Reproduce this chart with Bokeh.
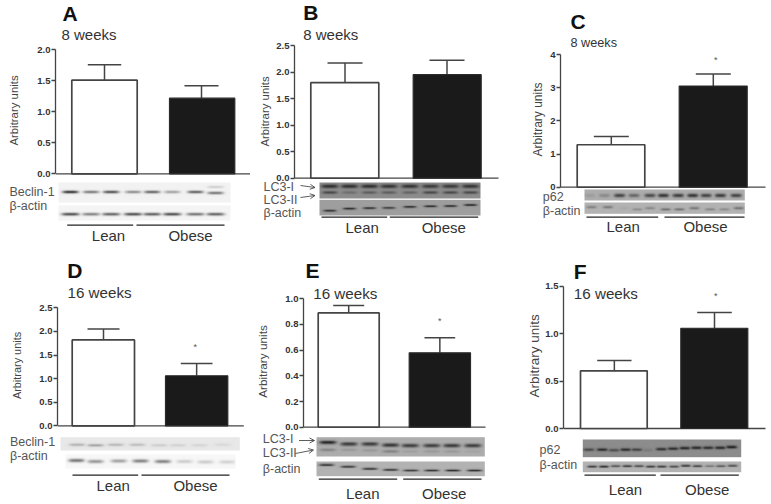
import numpy as np
from bokeh.embed import file_html
from bokeh.resources import INLINE
from bokeh.layouts import column, row
from bokeh.models import Range1d, FixedTicker, Label, Arrow, OpenHead
from bokeh.plotting import figure

# ---------- data ----------
panel_letters = ["A", "B", "C", "D", "E", "F"]
panel_periods = ["8 weeks", "8 weeks", "8 weeks", "16 weeks", "16 weeks", "16 weeks"]
groups = ["Lean", "Obese"]
y_label = "Arbitrary units"

lean_means = [1.51, 1.80, 1.28, 1.82, 0.89, 0.608]
lean_tops = [1.76, 2.17, 1.53, 2.05, 0.947, 0.717]
obese_means = [1.22, 1.95, 3.05, 1.06, 0.579, 1.057]
obese_tops = [1.42, 2.22, 3.41, 1.32, 0.696, 1.223]
has_star = [False, False, True, True, True, True]

y_ticks = [
    [0, 0.5, 1.0, 1.5, 2.0],
    [0, 0.5, 1.0, 1.5, 2.0, 2.5],
    [0, 1, 2, 3, 4],
    [0, 0.5, 1.0, 1.5, 2.0, 2.5],
    [0, 0.2, 0.4, 0.6, 0.8, 1.0],
    [0, 0.5, 1.0, 1.5],
]
y_tick_labels = [
    ["0.0", "0.5", "1.0", "1.5", "2.0"],
    ["0.0", "0.5", "1.0", "1.5", "2.0", "2.5"],
    ["0", "1", "2", "3", "4"],
    ["0.0", "0.5", "1.0", "1.5", "2.0", "2.5"],
    ["0.0", "0.2", "0.4", "0.6", "0.8", "1.0"],
    ["0.0", "0.5", "1.0", "1.5"],
]

# band darkness per lane (0 = none, 1 = black)
a_beclin = [0.95, 0.6, 0.8, 0.5, 0.7, 0.4, 0.72, 0.62]
a_actin = [0.8, 0.55, 0.7, 0.8, 0.72, 0.8, 0.62, 0.7]
b_lc3_1 = [0.85, 0.85, 0.85, 0.8, 0.8, 0.75, 0.75, 0.8]
b_lc3_2 = [0.65, 0.3, 0.45, 0.45, 0.4, 0.65, 0.65, 0.65]
b_actin = [0.85, 0.9, 0.85, 0.75, 0.85, 0.85, 0.85, 0.9]
c_p62 = [0.12, 0.25, 0.75, 0.5, 0.7, 0.85, 0.8, 0.85, 0.75, 0.8, 0.75, 0.7]
c_actin = [0.35, 0.4, 0.06, 0.28, 0.3, 0.5, 0.5, 0.42, 0.35, 0.3, 0.45, 0.0]
d_beclin = [0.28, 0.36, 0.25, 0.22, 0.14, 0.12, 0.1, 0.08]
d_actin = [0.6, 0.45, 0.4, 0.55, 0.55, 0.2, 0.2, 0.17]
e_lc3_1 = [0.95, 0.8, 0.8, 0.8, 0.75, 0.75, 0.78, 0.75]
e_lc3_2 = [0.3, 0.15, 0.15, 0.3, 0.1, 0.15, 0.15, 0.08]
e_actin = [0.9, 0.85, 0.85, 0.85, 0.8, 0.85, 0.9, 0.9]
f_p62 = [0.6, 0.85, 0.55, 0.85, 0.65, 0.15, 0.8, 0.85, 0.9, 0.9, 0.85, 0.9, 0.95]
f_actin = [0.8, 0.9, 0.65, 0.8, 0.7, 0.8, 0.8, 0.7, 0.85, 0.75, 0.4, 0.6, 0.7]

# ---------- layout, in pixels of the picture ----------
LEFT = [0, 250, 510, 0, 250, 510]
RIGHT = [250, 510, 766, 250, 510, 766]
TOP = [0, 0, 0, 252, 252, 252]
CHART_TOP = [40, 40, 48, 299, 286, 279]
SPLIT = [180, 182, 190, 431, 436, 432]
BOTTOM = [252, 252, 252, 503, 503, 503]
OVERLAP = 10
AXIS_X = [55, 294, 560, 57.3, 302.7, 563.3]
Y_ZERO = [173.3, 177.7, 186.7, 425.3, 426.7, 428]
Y_MAX = [49.3, 45, 54, 307.3, 298.3, 285.7]
X_AXIS_END = [250, 498, 765, 243.3, 485, 765]
LEAN_BAR = [(71.3, 136.7), (310.3, 378.3), (576.7, 644.3), (71.7, 134), (317.7, 378.7), (580, 646.7)]
OBESE_BAR = [(169, 234.3), (412.7, 480.7), (678.7, 746.7), (165, 227.3), (408.7, 470), (680.3, 747.3)]
LEAN_CAP = [(87.3, 120.7), (327, 362), (593.3, 628.3), (87, 119), (332.7, 363.7), (596.7, 631)]
OBESE_CAP = [(184, 218), (429, 464), (695.3, 730.3), (180.3, 212), (424, 454.7), (696.7, 731.3)]
STAR = [None, None, (715.3, 59), (194.7, 346), (439.3, 320), (715.3, 295)]
LETTER = [(62, 21), (302.7, 20), (570, 28.3), (66.7, 277.3), (305, 277.3), (573.3, 278.3)]
PERIOD = [(61, 39, 15), (302.7, 39, 15), (570, 47, 12.7), (67, 297.3, 15.2), (312.7, 298.3, 15.2), (573.3, 298.7, 15.2)]
YLAB = [(17, 11.4), (267.5, 11.4), (542, 12), (19.8, 10.9), (267.2, 11.8), (538.2, 13.5)]
RULES = [
    (224.7, (66.7, 132.7), (136, 224)),
    (216.7, (321, 386.7), (389.3, 477.7)),
    (216.7, (586, 657.7), (664, 744)),
    (474.7, (72, 137.7), (141, 229)),
    (478.7, (318.3, 396.7), (402.7, 481)),
    (474.7, (584, 655.3), (660, 738.3)),
]
GROUP_TEXT = [
    (108, 190, 240), (361.7, 443.3, 232.3), (622.7, 705, 231.7),
    (112.7, 195, 490), (362.3, 443.7, 498), (625, 706.7, 494),
]
ROW_TEXT = [
    [("Beclin-1", 9, 196), ("β-actin", 9, 210)],
    [("LC3-I", 263, 191), ("LC3-II", 263, 204), ("β-actin", 263, 216.7)],
    [("p62", 542.3, 201), ("β-actin", 542.3, 215)],
    [("Beclin-1", 9.5, 446), ("β-actin", 9.5, 460)],
    [("LC3-I", 262.3, 443.3), ("LC3-II", 262.3, 457.3), ("β-actin", 262.3, 473.3)],
    [("p62", 539, 454), ("β-actin", 539, 469)],
]
ARROWS = [
    [],
    [(300, 185, 314.5, 187), (300, 197, 314.5, 195)],
    [],
    [],
    [(298.5, 440, 314, 440), (295, 453, 313, 449.5)],
    [],
]


def zx(vals, off):
    return [off + v / 3 for v in vals]


lanes8 = zx([210, 272, 332, 398, 455, 515, 585, 645], 0)
lanesB = zx([238, 297, 357, 415, 478, 540, 600, 660], 250)
lanesC = zx([237, 282, 327, 370, 418, 458, 502, 545, 585, 628, 675, 0], 510)
lanesC_actin = zx([243, 292, 340, 380, 418, 465, 505, 550, 597, 640, 683, 705], 510)
lanesD = zx([230, 285, 345, 410, 475, 530, 595, 665], 0)
lanesD_actin = zx([228, 285, 355, 420, 487, 552, 615, 680], 0)
lanesE = zx([232, 295, 358, 420, 478, 542, 602, 665], 250)
lanesE_actin = zx([228, 293, 358, 420, 480, 542, 605, 670], 250)
lanesF = zx([235, 275, 310, 345, 378, 410, 452, 487, 522, 557, 592, 628, 662], 510)
lanesF_actin = zx([245, 280, 315, 350, 385, 420, 453, 490, 525, 560, 597, 630, 665], 510)

# box (x0, x1, y0, y1), background grey, bands: (lane xs, lane ys, darkness, half width, half height)
BLOTS = [
    [
        ((58, 230, 182, 202), 0.95, [(lanes8, [191.5] * 7 + [192.5], a_beclin, 8, 1.3),
                                     (lanes8[-1:], [186.5], [0.2], 8, 1.0)]),
        ((58, 230, 205, 220), 0.96, [(lanes8, [213.7] * 8, a_actin, 9, 1.4)]),
    ],
    [
        ((319, 480, 182, 198), 0.55, [(lanesB, [185.8] * 8, b_lc3_1, 8.5, 1.8),
                                      (lanesB, [192] * 8, b_lc3_2, 7.5, 1.3)]),
        ((319, 480, 199.3, 215), 0.62, [(lanesB, [210.5, 208.5, 208, 207.8, 206.8, 206.2, 206, 205], b_actin, 6.5, 1.0)]),
    ],
    [
        ((584, 744.3, 189, 200), 0.68, [(lanesC, [195] * 12, c_p62, 5.5, 1.8)]),
        ((584, 744.3, 202, 213.3), 0.70, [(lanesC_actin, [207, 207, 208, 209, 208, 209, 209, 208, 209, 209, 208, 207], c_actin, 5, 1.0)]),
    ],
    [
        ((60, 239.3, 436.7, 450), 0.91, [(lanesD, [444.5, 445, 444.5, 444.5, 445, 445, 445, 444.5], d_beclin, 8, 1.2)]),
        ((65, 235, 454, 468), 0.97, [(lanesD_actin, [460, 461, 460.5, 460.5, 461, 461, 461.5, 461.5], d_actin, 8, 1.7)]),
    ],
    [
        ((316, 484.3, 436.7, 456), 0.68, [(lanesE, [442.5, 444, 444, 445, 445.5, 445.5, 445.5, 445.5], e_lc3_1, 8.5, 1.7),
                                          (lanesE, [449.5, 449.5, 450, 451, 451, 451, 451, 451], e_lc3_2, 8, 1.3)]),
        ((316, 484.3, 461, 475.7), 0.70, [(lanesE_actin, [465, 466.7, 468.7, 469.7, 470.3, 470.3, 470.3, 470.3], e_actin, 7.5, 1.0)]),
    ],
    [
        ((582.3, 740.7, 439, 456.7), 0.55, [(lanesF, [449.5, 449.5, 450, 449.5, 449.5, 450, 449, 448.5, 448, 447.7, 447.7, 447.7, 447], f_p62, 5.5, 1.4)]),
        ((582.3, 740.7, 461, 471.7), 0.70, [(lanesF_actin, [466.5, 466.5, 466, 466, 466, 466.5, 466.5, 466.5, 465.7, 466, 466, 466, 465.7], f_actin, 5, 1.0)]),
    ],
]

FONT = "Liberation Sans"
DARK = "#444444"
BASELINE_SHIFT = 0.36  # Label draws an alphabetic baseline this many em too low


def add_blot(p, box, bg, bands):
    x0, x1, y0, y1 = box
    sx = 3
    w = int((x1 - x0) * sx)
    h = int((y1 - y0) * sx)
    xs = x0 + (np.arange(w) + 0.5) / sx
    ys = y1 - (np.arange(h) + 0.5) / sx  # row 0 is the bottom of the image
    dark = np.zeros((h, w))
    for lanes, lane_y, darkness, hw, hh in bands:
        for lx, ly, d in zip(lanes, lane_y, darkness):
            prof_x = np.exp(-(np.abs(xs - lx) / hw) ** 4)
            prof_y = np.exp(-((ys - ly) / hh) ** 2)
            dark = np.maximum(dark, d * np.outer(prof_y, prof_x))
    grey = bg * (1 - dark) + 0.1 * dark
    g = np.clip(grey * 255, 0, 255).astype(np.uint32)
    img = (255 << 24) | (g << 16) | (g << 8) | g
    p.image_rgba(image=[img.astype(np.uint32)], x=x0, y=-y1, dw=x1 - x0, dh=y1 - y0)


def add_text(p, to_y, s, x, y, size, color="#444444", style="normal", align="left", baseline="alphabetic"):
    if baseline == "alphabetic":
        y = y - BASELINE_SHIFT * size
    p.add_layout(Label(x=x, y=to_y(y), text=s, text_font=FONT, text_font_size=f"{size}px",
                       text_color=color, text_font_style=style, text_align=align,
                       text_baseline=baseline))


def plain_figure(left, right, top, bottom, margin=(0, 0, 0, 0)):
    p = figure(
        width=right - left, height=bottom - top, output_backend="svg", toolbar_location=None,
        x_range=Range1d(left, right), y_range=Range1d(-bottom, -top),
        x_axis_location=None, y_axis_location=None, frame_align=False, margin=margin,
        min_border_left=0, min_border_right=0, min_border_top=0, min_border_bottom=0,
        outline_line_color=None, background_fill_color=None, border_fill_color=None,
    )
    p.grid.visible = False
    return p


def titles(p, to_y, i, limit_low, limit_high):
    lx, ly = LETTER[i]
    if limit_low < ly <= limit_high:
        add_text(p, to_y, panel_letters[i], lx, ly, 21, "#111111", "bold")
    px, py, ps = PERIOD[i]
    if limit_low < py <= limit_high:
        add_text(p, to_y, panel_periods[i], px, py, ps, "#333333")


def head(i):
    p = plain_figure(LEFT[i], RIGHT[i], TOP[i], CHART_TOP[i] + OVERLAP)
    titles(p, lambda px: -px, i, TOP[i], CHART_TOP[i])
    return p


def chart(i):
    left, right, top, bottom = LEFT[i], RIGHT[i], CHART_TOP[i], SPLIT[i]
    ax, y0, ym = AXIS_X[i], Y_ZERO[i], Y_MAX[i]
    vmax = y_ticks[i][-1]
    k = vmax / (y0 - ym)

    def to_y(px):
        return (y0 - px) * k

    border = int(round(ax - left))
    ax = left + border
    p = figure(
        width=right - left, height=bottom - top + OVERLAP, output_backend="svg", toolbar_location=None,
        x_range=Range1d(ax, right), y_range=Range1d(to_y(bottom), to_y(top)),
        x_axis_location=None, y_axis_location="left", frame_align=False,
        margin=(-OVERLAP, 0, -OVERLAP, 0),
        min_border_left=border, min_border_right=0, min_border_top=0, min_border_bottom=OVERLAP,
        outline_line_color=None, background_fill_color=None, border_fill_color=None,
    )
    p.frame_width = right - left - border
    p.frame_height = bottom - top
    p.grid.visible = False

    yax = p.yaxis[0]
    yax.ticker = FixedTicker(ticks=y_ticks[i])
    yax.major_label_overrides = dict(zip(y_ticks[i], y_tick_labels[i]))
    yax.bounds = (0, vmax)
    yax.major_tick_in = 0
    yax.major_tick_out = 4
    yax.minor_tick_line_color = None
    yax.axis_line_color = DARK
    yax.axis_line_width = 1.3
    yax.major_tick_line_color = DARK
    yax.major_tick_line_width = 1.3
    yax.major_label_standoff = 1
    yax.major_label_text_font = FONT
    yax.major_label_text_font_style = "bold"
    yax.major_label_text_font_size = "9.5px"
    yax.major_label_text_color = "#333333"

    lab_x, lab_size = YLAB[i]
    tick_w = 13.3 if i != 2 else 5.3
    yax.axis_label = y_label
    yax.axis_label_text_font = FONT
    yax.axis_label_text_font_style = "normal"
    yax.axis_label_text_font_size = f"{lab_size}px"
    yax.axis_label_text_color = "#444444"
    yax.axis_label_standoff = int(round(ax - 5 - tick_w - (lab_x + lab_size / 2)))

    p.segment(x0=[ax], x1=[X_AXIS_END[i]], y0=[0], y1=[0], line_color=DARK, line_width=1.3)

    for (c0, c1), mean, t in ((LEAN_CAP[i], lean_means[i], lean_tops[i]), (OBESE_CAP[i], obese_means[i], obese_tops[i])):
        xc = (c0 + c1) / 2
        p.segment(x0=[xc, c0], x1=[xc, c1], y0=[mean, t], y1=[t, t], line_color=DARK, line_width=1.5)

    b0, b1 = LEAN_BAR[i]
    p.vbar(x=[(b0 + b1) / 2], width=[b1 - b0], top=[lean_means[i]], bottom=[0],
           fill_color="white", line_color=DARK, line_width=1.7)
    b0, b1 = OBESE_BAR[i]
    p.vbar(x=[(b0 + b1) / 2], width=[b1 - b0], top=[obese_means[i]], bottom=[0],
           fill_color="#1a1a1a", line_color="#2a2a2a", line_width=1.2)

    titles(p, to_y, i, top, bottom)
    if has_star[i]:
        sx, sy = STAR[i]
        add_text(p, to_y, "*", sx, sy, 9, "#555555", align="center", baseline="middle")
    return p


def strip(i):
    p = plain_figure(LEFT[i], RIGHT[i], SPLIT[i] - OVERLAP, BOTTOM[i], margin=(-OVERLAP, 0, 0, 0))

    def to_y(px):
        return -px

    for box, bg, bands in BLOTS[i]:
        add_blot(p, box, bg, bands)

    ry, (a0, a1), (c0, c1) = RULES[i]
    p.segment(x0=[a0, c0], x1=[a1, c1], y0=[-ry, -ry], y1=[-ry, -ry], line_color="#222222", line_width=1.3)

    gx0, gx1, gy = GROUP_TEXT[i]
    add_text(p, to_y, groups[0], gx0, gy, 15, "#333333", align="center")
    add_text(p, to_y, groups[1], gx1, gy, 15, "#333333", align="center")
    for s, tx, ty in ROW_TEXT[i]:
        add_text(p, to_y, s, tx, ty, 12.5, "#555555")
    for xa, ya, xb, yb in ARROWS[i]:
        p.add_layout(Arrow(end=OpenHead(size=5, line_color="#333333", line_width=0.8),
                           x_start=xa, y_start=-ya, x_end=xb, y_end=-yb,
                           line_color="#333333", line_width=0.8))
    return p


def panel(i):
    return column(head(i), chart(i), strip(i))


layout = column(row(panel(0), panel(1), panel(2)), row(panel(3), panel(4), panel(5)))
open("out.html", "w").write(file_html(layout, INLINE))
